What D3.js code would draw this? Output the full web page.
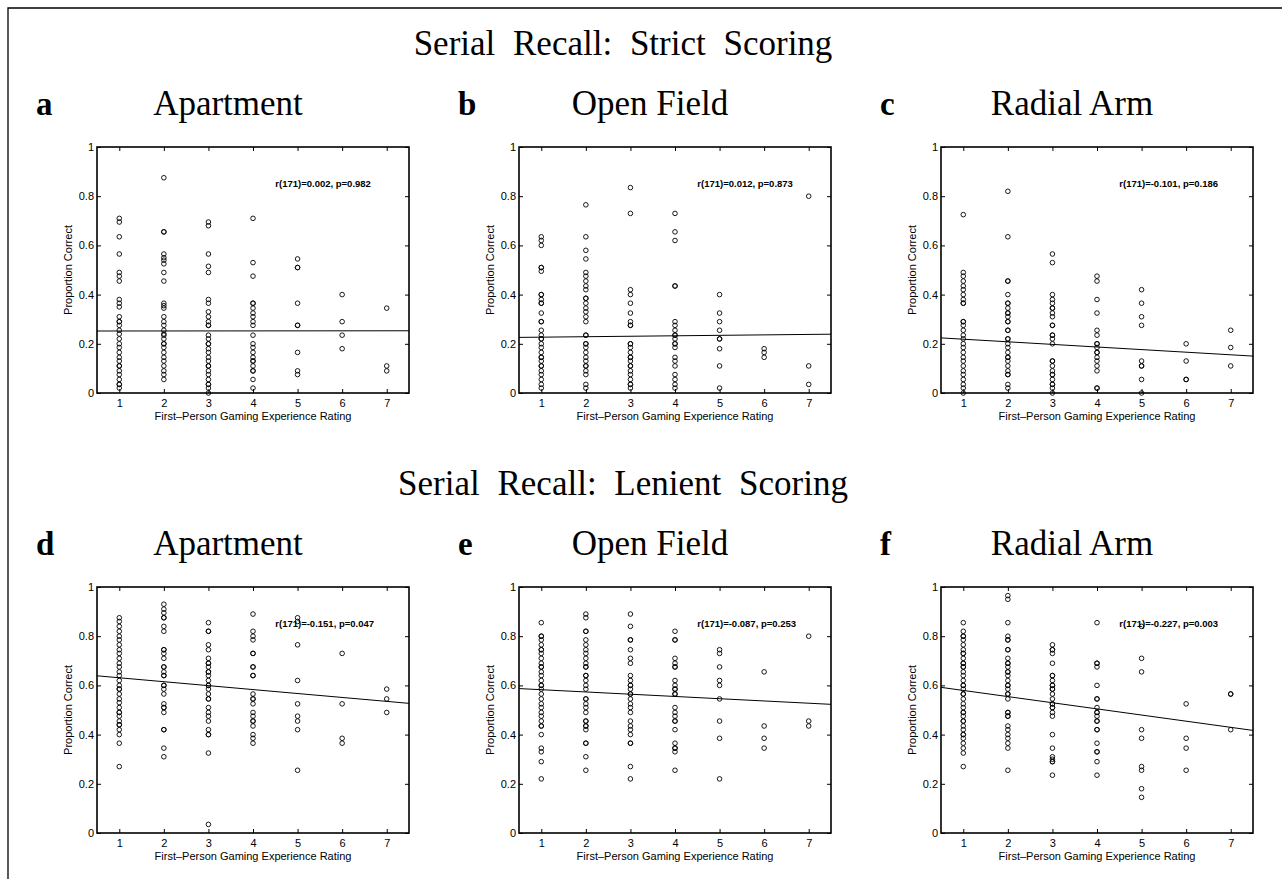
<!DOCTYPE html>
<html><head><meta charset="utf-8">
<script src="https://cdn.jsdelivr.net/npm/d3@7"></script>
<style>
body{margin:0;background:#fff;}
svg{display:block;}
</style></head>
<body>
<svg id="chart" width="1282" height="879"></svg>
<script>
// ---------- DATA ----------
const ratings = [1,2,3,4,5,6,7];
const yTicks = [0,0.2,0.4,0.6,0.8,1];
const rowTitles = ["Serial Recall: Strict Scoring","Serial Recall: Lenient Scoring"];
const panelLetters = ["a","b","c","d","e","f"];
const panelNames = ["Apartment","Open Field","Radial Arm","Apartment","Open Field","Radial Arm"];
const statTexts = ["r(171)=0.002, p=0.982","r(171)=0.012, p=0.873","r(171)=-0.101, p=0.186",
                   "r(171)=-0.151, p=0.047","r(171)=-0.087, p=0.253","r(171)=-0.227, p=0.003"];
// regression fits: [intercept, slope]
const fits = [[0.2519,0.00014],[0.2251,0.00186],[0.2293,-0.01057],
              [0.647,-0.016],[0.5916,-0.00914],[0.6045,-0.025]];

// proportion correct per rating (index 0 = rating 1)
const strictApartment = [
 [0.71,0.695,0.635,0.565,0.49,0.475,0.455,0.38,0.365,0.35,0.31,0.29,0.29,0.275,0.255,0.24,0.22,0.2,0.185,0.165,0.145,0.13,0.11,0.11,0.09,0.075,0.055,0.035,0.035,0.02],
 [0.875,0.655,0.655,0.565,0.55,0.54,0.525,0.49,0.455,0.365,0.355,0.345,0.31,0.29,0.275,0.255,0.24,0.235,0.22,0.2,0.2,0.185,0.165,0.145,0.13,0.11,0.09,0.075,0.055],
 [0.695,0.68,0.565,0.515,0.49,0.38,0.365,0.33,0.31,0.29,0.275,0.275,0.235,0.22,0.2,0.2,0.18,0.165,0.145,0.13,0.11,0.11,0.09,0.075,0.055,0.035,0.035,0.02,0],
 [0.71,0.53,0.475,0.365,0.365,0.345,0.325,0.31,0.29,0.275,0.235,0.2,0.185,0.165,0.145,0.13,0.13,0.11,0.09,0.09,0.055,0.02],
 [0.545,0.51,0.51,0.365,0.275,0.275,0.165,0.09,0.075],
 [0.4,0.29,0.235,0.18],
 [0.345,0.11,0.09]
];
const strictOpenField = [
 [0.635,0.62,0.6,0.51,0.51,0.495,0.4,0.4,0.38,0.365,0.365,0.325,0.29,0.29,0.255,0.235,0.22,0.22,0.2,0.185,0.165,0.145,0.145,0.13,0.11,0.11,0.09,0.075,0.055,0.035,0.02],
 [0.765,0.635,0.58,0.545,0.49,0.475,0.455,0.435,0.42,0.385,0.385,0.365,0.345,0.33,0.31,0.29,0.235,0.235,0.2,0.2,0.185,0.165,0.145,0.13,0.11,0.11,0.09,0.075,0.035,0.02],
 [0.835,0.73,0.42,0.4,0.365,0.325,0.29,0.275,0.275,0.2,0.2,0.185,0.165,0.145,0.145,0.13,0.11,0.11,0.09,0.075,0.055,0.035,0.035,0.02],
 [0.73,0.655,0.62,0.435,0.435,0.29,0.275,0.255,0.235,0.235,0.22,0.2,0.2,0.185,0.145,0.13,0.11,0.075,0.055,0.035,0.02],
 [0.4,0.325,0.29,0.255,0.22,0.22,0.18,0.11,0.02],
 [0.18,0.165,0.145],
 [0.8,0.11,0.035]
];
const strictRadialArm = [
 [0.725,0.49,0.475,0.455,0.435,0.42,0.4,0.38,0.365,0.365,0.29,0.29,0.275,0.255,0.235,0.22,0.2,0.185,0.165,0.145,0.13,0.11,0.09,0.075,0.055,0.035,0.02,0],
 [0.82,0.635,0.455,0.455,0.4,0.365,0.365,0.345,0.325,0.325,0.31,0.29,0.29,0.255,0.255,0.22,0.22,0.2,0.185,0.165,0.145,0.145,0.13,0.11,0.09,0.075,0.075,0.035,0.02],
 [0.565,0.53,0.4,0.38,0.365,0.345,0.345,0.325,0.31,0.275,0.275,0.235,0.235,0.22,0.2,0.13,0.13,0.11,0.09,0.075,0.075,0.055,0.035,0.035,0.02,0],
 [0.475,0.455,0.38,0.325,0.255,0.235,0.2,0.2,0.185,0.165,0.165,0.145,0.13,0.11,0.09,0.02,0.02],
 [0.42,0.365,0.31,0.275,0.13,0.11,0.11,0.055,0],
 [0.2,0.13,0.055,0.055],
 [0.255,0.185,0.11]
];
const lenientApartment = [
 [0.875,0.86,0.84,0.82,0.8,0.785,0.765,0.745,0.73,0.71,0.69,0.675,0.655,0.64,0.62,0.6,0.585,0.585,0.565,0.545,0.53,0.51,0.49,0.49,0.475,0.455,0.44,0.44,0.42,0.4,0.365,0.27],
 [0.93,0.91,0.895,0.875,0.875,0.84,0.82,0.745,0.745,0.73,0.71,0.675,0.675,0.655,0.64,0.64,0.6,0.6,0.585,0.565,0.525,0.51,0.51,0.49,0.42,0.42,0.345,0.31],
 [0.855,0.82,0.82,0.765,0.745,0.71,0.69,0.69,0.675,0.655,0.655,0.64,0.62,0.6,0.6,0.585,0.565,0.545,0.545,0.51,0.49,0.475,0.455,0.42,0.4,0.4,0.325,0.035],
 [0.89,0.82,0.8,0.785,0.73,0.73,0.675,0.675,0.64,0.64,0.565,0.545,0.545,0.525,0.49,0.475,0.455,0.455,0.435,0.4,0.385,0.365],
 [0.875,0.86,0.765,0.62,0.525,0.475,0.455,0.42,0.255],
 [0.73,0.525,0.385,0.365],
 [0.585,0.545,0.49]
];
const lenientOpenField = [
 [0.855,0.8,0.8,0.785,0.765,0.745,0.745,0.73,0.71,0.69,0.675,0.675,0.655,0.64,0.62,0.6,0.6,0.585,0.565,0.545,0.525,0.51,0.49,0.475,0.455,0.435,0.435,0.4,0.345,0.33,0.29,0.22],
 [0.89,0.875,0.82,0.82,0.785,0.765,0.745,0.73,0.71,0.69,0.675,0.675,0.64,0.64,0.62,0.6,0.585,0.545,0.545,0.525,0.51,0.49,0.455,0.455,0.435,0.435,0.42,0.365,0.365,0.31,0.255],
 [0.89,0.84,0.785,0.785,0.745,0.71,0.69,0.64,0.62,0.6,0.6,0.585,0.565,0.565,0.545,0.525,0.51,0.49,0.455,0.435,0.42,0.4,0.365,0.365,0.27,0.22],
 [0.82,0.785,0.785,0.71,0.69,0.675,0.675,0.62,0.6,0.585,0.585,0.565,0.565,0.51,0.49,0.475,0.455,0.455,0.42,0.365,0.345,0.345,0.33,0.255],
 [0.745,0.73,0.675,0.62,0.6,0.545,0.455,0.385,0.22],
 [0.655,0.435,0.385,0.345],
 [0.8,0.455,0.435]
];
const lenientRadialArm = [
 [0.855,0.82,0.8,0.8,0.785,0.765,0.745,0.73,0.73,0.71,0.69,0.69,0.675,0.675,0.655,0.64,0.62,0.6,0.6,0.585,0.565,0.565,0.545,0.525,0.51,0.49,0.49,0.475,0.455,0.455,0.435,0.42,0.4,0.4,0.385,0.365,0.345,0.325,0.27],
 [0.965,0.95,0.855,0.8,0.785,0.785,0.745,0.745,0.71,0.69,0.69,0.675,0.655,0.655,0.64,0.62,0.6,0.6,0.585,0.565,0.565,0.545,0.49,0.49,0.475,0.475,0.435,0.42,0.4,0.385,0.365,0.345,0.255],
 [0.765,0.745,0.745,0.73,0.69,0.64,0.64,0.62,0.6,0.6,0.585,0.585,0.565,0.545,0.525,0.525,0.51,0.51,0.49,0.475,0.4,0.345,0.31,0.3,0.29,0.29,0.235],
 [0.855,0.69,0.69,0.675,0.6,0.545,0.545,0.51,0.49,0.49,0.475,0.455,0.455,0.42,0.42,0.365,0.33,0.33,0.29,0.235],
 [0.84,0.71,0.655,0.42,0.385,0.27,0.255,0.18,0.145],
 [0.525,0.385,0.345,0.255],
 [0.565,0.565,0.42]
];
const panelData = [strictApartment,strictOpenField,strictRadialArm,lenientApartment,lenientOpenField,lenientRadialArm];

// ---------- DRAW ----------
const svg = d3.select("#chart");
const W = 312, H = 246;
const colLeft = [97, 519, 941];
const rowTop = [147, 587];
const serif = "'Liberation Serif','Times New Roman',serif";
const sans = "'Liberation Sans',Arial,Helvetica,sans-serif";

// outer frame (top and left only)
svg.append("path").attr("d","M8,879V8H1282").attr("fill","none").attr("stroke","#000").attr("stroke-width",1.3);

// row titles
rowTitles.forEach((t,i)=>{
  svg.append("text").attr("x",623).attr("y",rowTop[i]-92)
    .attr("text-anchor","middle").attr("font-family",serif).attr("font-size",35)
    .attr("word-spacing",9).text(t);
});

const x = d3.scaleLinear().domain([0.5,7.5]).range([0,W]);
const y = d3.scaleLinear().domain([0,1]).range([H,0]);
const yFmt = d => (d===0?"0":d===1?"1":d3.format(".1f")(d));

panelData.forEach((cols,p)=>{
  const r = Math.floor(p/3), c = p%3;
  const L = colLeft[c], T = rowTop[r];
  // letter + title
  svg.append("text").attr("x",L-61).attr("y",T-32).attr("font-family",serif)
    .attr("font-weight","bold").attr("font-size",33).text(panelLetters[p]);
  svg.append("text").attr("x",L+131).attr("y",T-32).attr("text-anchor","middle")
    .attr("font-family",serif).attr("font-size",35).text(panelNames[p]);

  const g = svg.append("g").attr("transform",`translate(${L},${T})`);

  // axes with inward ticks
  const ax = g.append("g").attr("transform",`translate(0,${H})`)
    .call(d3.axisBottom(x).tickValues(ratings).tickSize(-4).tickPadding(6).tickFormat(d3.format("d")));
  const axT = g.append("g").call(d3.axisTop(x).tickValues(ratings).tickSize(-4).tickFormat(""));
  const ay = g.append("g").call(d3.axisLeft(y).tickValues(yTicks).tickSize(-4).tickPadding(3).tickFormat(yFmt));
  const ayR = g.append("g").attr("transform",`translate(${W},0)`)
    .call(d3.axisRight(y).tickValues(yTicks).tickSize(-4).tickFormat(""));
  [ax,axT,ay,ayR].forEach(a=>{
    a.select(".domain").remove();
    a.selectAll("text").attr("font-family",sans).attr("font-size",11).attr("fill","#000");
    a.selectAll("line").attr("stroke","#000").attr("stroke-width",1);
  });
  g.append("rect").attr("width",W).attr("height",H).attr("fill","none")
    .attr("stroke","#000").attr("stroke-width",1.6);

  // axis labels
  g.append("text").attr("x",W/2).attr("y",H+27).attr("text-anchor","middle")
    .attr("font-family",sans).attr("font-size",11).text("First\u2013Person Gaming Experience Rating");
  g.append("text").attr("transform",`translate(-25,${H/2}) rotate(-90)`).attr("text-anchor","middle")
    .attr("font-family",sans).attr("font-size",11).text("Proportion Correct");

  // points
  const pts = [];
  cols.forEach((vals,i)=>vals.forEach(v=>pts.push({rating:ratings[i],v})));
  g.append("g").selectAll("circle").data(pts).join("circle")
    .attr("cx",d=>x(d.rating)).attr("cy",d=>y(d.v)).attr("r",2.3)
    .attr("fill","none").attr("stroke","#000").attr("stroke-width",0.9);

  // regression line
  const [b0,b1] = fits[p];
  const xd = x.domain();
  g.append("line").attr("x1",x(xd[0])).attr("y1",y(b0+b1*xd[0]))
    .attr("x2",x(xd[1])).attr("y2",y(b0+b1*xd[1]))
    .attr("stroke","#000").attr("stroke-width",1);

  // stat text
  g.append("text").attr("x",x(4.5)).attr("y",y(0.85)).attr("dy","0.35em")
    .attr("font-family",sans).attr("font-weight","bold").attr("font-size",9.5).text(statTexts[p]);
});
</script>
</body></html>
